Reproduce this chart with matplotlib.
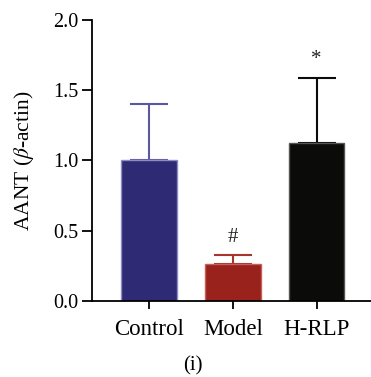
import matplotlib.pyplot as plt
import numpy as np

groups = ['Control', 'Model', 'H-RLP']
means = [1.00, 0.26, 1.125]
errs = [0.40, 0.067, 0.465]
marks = ['', '#', '*']
fill_colors = ['#2e2a74', '#9a221c', '#0b0b09']
edge_colors = ['#8f8cc4', '#c5605a', '#555555']
err_colors = ['#5c58a0', '#a8342e', '#0b0b09']

plt.rcParams['font.family'] = ['Liberation Serif', 'DejaVu Serif']
plt.rcParams['mathtext.fontset'] = 'stix'

fig = plt.figure(figsize=(3.71, 3.77), dpi=100)
ax = fig.add_axes([0.248, 0.2016, 0.752, 0.7454])

x = np.arange(len(groups))
for i in range(len(groups)):
    ax.bar(x[i], means[i], width=0.667, color=fill_colors[i],
           edgecolor=edge_colors[i], linewidth=1.0, zorder=2)
    ax.errorbar(x[i], means[i], yerr=[[0], [errs[i]]], fmt='none',
                ecolor=err_colors[i], elinewidth=1.5, capsize=14,
                capthick=1.5, zorder=1)
    if marks[i]:
        ax.text(x[i], means[i] + errs[i] + 0.06, marks[i], ha='center',
                va='bottom', fontsize=15, color='#222222')

ax.set_xlim(-0.68, 2.65)
ax.set_ylim(0, 2.0)
ax.set_yticks([0, 0.5, 1.0, 1.5, 2.0])
ax.set_yticklabels(['0.0', '0.5', '1.0', '1.5', '2.0'], fontsize=14.5)
ax.set_xticks(x)
ax.set_xticklabels(groups, fontsize=16.5)
ax.tick_params(axis='y', direction='out', length=7, width=1.3, pad=3)
ax.tick_params(axis='x', direction='out', length=6, width=1.3, pad=7)
ax.spines['top'].set_visible(False)
ax.spines['right'].set_visible(False)
ax.spines['left'].set_linewidth(1.3)
ax.spines['bottom'].set_linewidth(1.3)
ax.set_ylabel(r'AANT ($\beta$-actin)', fontsize=15.5, labelpad=12)

fig.text(0.52, 0.005, '(i)', ha='center', va='bottom', fontsize=15)

fig.savefig('out.png', dpi=100)
